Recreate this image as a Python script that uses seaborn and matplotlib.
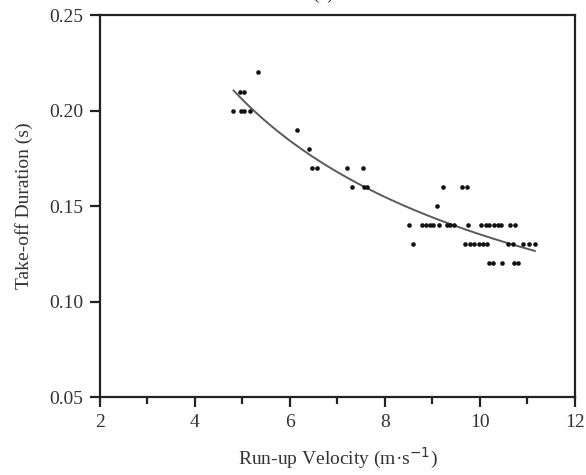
import numpy as np
import pandas as pd
import matplotlib
matplotlib.use("Agg")
import matplotlib.pyplot as plt
from matplotlib.ticker import MultipleLocator
import seaborn as sns

# ---- data ----
dur_022 = [5.33]
dur_021 = [4.94, 5.04]
dur_020 = [4.81, 4.97, 5.03, 5.16]
dur_019 = [6.14]
dur_018 = [6.40]
dur_017 = [6.46, 6.57, 7.19, 7.54]
dur_016 = [7.31, 7.55, 7.63, 9.23, 9.63, 9.73]
dur_015 = [9.10]
dur_014 = [8.51, 8.78, 8.86, 8.94, 9.02, 9.14, 9.30, 9.37, 9.45, 9.75,
           10.03, 10.12, 10.20, 10.29, 10.37, 10.45, 10.63, 10.74]
dur_013 = [8.58, 9.69, 9.79, 9.88, 9.97, 10.06, 10.14, 10.60, 10.70,
           10.91, 11.03, 11.16]
dur_012 = [10.18, 10.27, 10.46, 10.71, 10.80]

rows = {0.22: dur_022, 0.21: dur_021, 0.20: dur_020, 0.19: dur_019,
        0.18: dur_018, 0.17: dur_017, 0.16: dur_016, 0.15: dur_015,
        0.14: dur_014, 0.13: dur_013, 0.12: dur_012}

x_ticks = [2, 4, 6, 8, 10, 12]
y_ticks = [0.05, 0.10, 0.15, 0.20, 0.25]

vel, dur = [], []
for t, vs in rows.items():
    for v in vs:
        vel.append(v)
        dur.append(t)
df = pd.DataFrame({"velocity": vel, "duration": dur})

# power-law trend line fitted to the points (log-log least squares)
b, ln_a = np.polyfit(np.log(df["velocity"]), np.log(df["duration"]), 1)
fit_x = np.linspace(df["velocity"].min(), df["velocity"].max(), 200)
fit_df = pd.DataFrame({"velocity": fit_x, "duration": np.exp(ln_a) * fit_x ** b})

# ---- plot ----
sns.set_style("ticks")
plt.rcParams["font.family"] = ["Liberation Serif", "DejaVu Serif"]

fig = plt.figure(figsize=(5.86, 4.75), dpi=100)
ax = fig.add_axes([0.1706, 0.1642, 0.8106, 0.8038])

sns.lineplot(data=fit_df, x="velocity", y="duration", ax=ax,
             color="#5a5a5a", lw=1.4)
sns.scatterplot(data=df, x="velocity", y="duration", ax=ax,
                color="#111111", s=11, linewidth=0, zorder=3)

ax.set_xlim(2, 12)
ax.set_ylim(0.05, 0.25)
ax.set_xticks(x_ticks)
ax.set_xticklabels([str(v) for v in x_ticks])
ax.xaxis.set_minor_locator(MultipleLocator(1))
ax.set_yticks(y_ticks)
ax.set_yticklabels([f"{v:.2f}" for v in y_ticks])

for s in ax.spines.values():
    s.set_visible(True)
    s.set_color("#222222")
    s.set_linewidth(1.6)

ax.tick_params(axis="both", which="major", direction="out", length=7,
               width=1.6, color="#222222", labelsize=14, labelcolor="#333333", pad=5)
ax.tick_params(axis="x", which="minor", direction="out", length=5,
               width=1.6, color="#222222")

ax.set_xlabel("Run-up Velocity (m\u00b7s$^{-1}$)", fontsize=14, color="#333333", labelpad=11)
ax.set_ylabel("Take-off Duration (s)", fontsize=14, color="#333333", labelpad=12)

fig.text(323 / 586, 1 + 1 / 475, "(a)", ha="center", va="baseline",
         fontsize=14, color="#333333")

fig.savefig("out.png", dpi=100)
